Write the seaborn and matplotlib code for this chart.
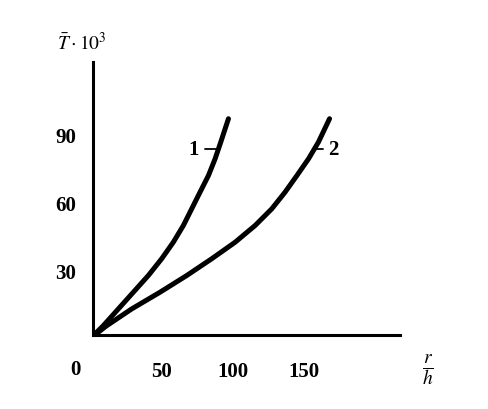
import numpy as np
import pandas as pd
import matplotlib
matplotlib.use('Agg')
import matplotlib.pyplot as plt
import seaborn as sns

# Curve data (r/h, T*10^3)
r_h_1 = [0, 8.7, 19.3, 29.9, 40.5, 49.9, 58.1, 65.2, 71.1, 77, 82.9, 87.6, 91.6, 97]
t_1 = [0, 5.4, 12.8, 20.2, 27.6, 35, 42.3, 49.7, 57.1, 64.5, 71.8, 79.2, 86.6, 96.9]
r_h_2 = [0, 11.1, 28.7, 48.7, 67.6, 85.2, 101.7, 115.8, 127.6, 137, 145.3, 153.5, 160.5, 168.3]
t_2 = [0, 5.4, 12.8, 20.2, 27.6, 35, 42.3, 49.7, 57.1, 64.5, 71.8, 79.2, 86.6, 96.9]
x_ticks = [50, 100, 150]
y_ticks = [30, 60, 90]

curves = pd.concat([
    pd.DataFrame({'r_h': r_h_1, 'T': t_1, 'curve': '1'}),
    pd.DataFrame({'r_h': r_h_2, 'T': t_2, 'curve': '2'}),
])

sns.set_style('white')
plt.rcParams['font.family'] = ['Liberation Serif', 'DejaVu Serif']
plt.rcParams['mathtext.fontset'] = 'stix'
plt.rcParams['text.color'] = 'black'
plt.rcParams['xtick.color'] = 'black'
plt.rcParams['ytick.color'] = 'black'
plt.rcParams['lines.solid_joinstyle'] = 'round'
plt.rcParams['lines.solid_capstyle'] = 'round'

fig = plt.figure(figsize=(4.89, 4.10), dpi=100)
ax = fig.add_axes([0.19, 0.1805, 0.628, 0.666])

sns.lineplot(data=curves, x='r_h', y='T', units='curve', estimator=None,
             color='black', lw=3.6, sort=False, ax=ax, legend=False)

ax.set_xlim(1.4, 218)
ax.set_ylim(1.3, 122)
ax.set_xticks(x_ticks)
ax.set_yticks(y_ticks)
ax.set_xlabel('')
ax.set_ylabel('')
ax.tick_params(direction='in', length=5, width=1.5, labelsize=15,
               color='black', labelcolor='black')
ax.tick_params(axis='x', pad=19)
ax.tick_params(axis='y', pad=12)
for lab in ax.get_xticklabels() + ax.get_yticklabels():
    lab.set_fontweight('bold')

sns.despine(ax=ax)
for side in ['left', 'bottom']:
    ax.spines[side].set_linewidth(2.2)
    ax.spines[side].set_color('black')

# origin label
fig.text(75 / 489, 1 - 370 / 410, '0', fontsize=15, fontweight='bold',
         ha='center', va='center')

# curve labels with short leaders
ax.plot([80.5, 89.4], [83.6, 83.6], color='black', lw=1.3)
ax.text(72.7, 83.6, '1', fontsize=15, fontweight='bold', ha='center', va='center')
ax.plot([156.5, 163.6], [83.6, 83.6], color='black', lw=1.3)
ax.text(171, 83.6, '2', fontsize=15, fontweight='bold', ha='center', va='center')

# axis titles
fig.text(82 / 489, 1 - 42 / 410, r'$\bar{T}\cdot10^3$', fontsize=14,
         ha='center', va='center')
fig.text(428 / 489, 1 - 370 / 410, r'$\mathbf{\frac{\mathit{r}}{\mathit{h}}}$',
         fontsize=20, ha='center', va='center')

fig.savefig('out.png', dpi=100)
